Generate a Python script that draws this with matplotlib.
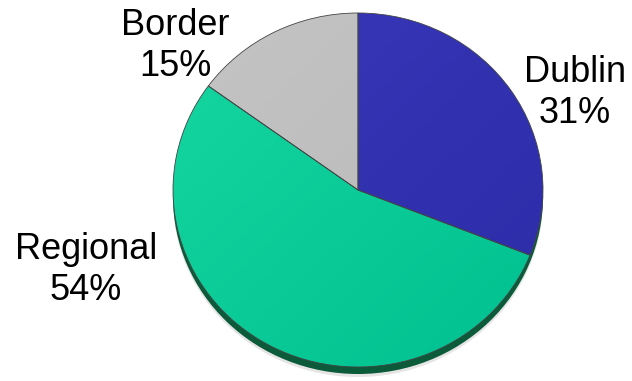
import numpy as np
import matplotlib.pyplot as plt
from matplotlib.colors import to_rgb
from matplotlib.patches import Ellipse

regions = ['Dublin', 'Regional', 'Border']
shares = [31, 54, 15]
colors = ['#3232B2', '#0BCA98', '#BDBDBD']
# lighter / darker tones used for the soft shading across each slice
tops = ['#3838BA', '#16D6A0', '#C4C4C4']
bottoms = ['#2C2CA8', '#00C090', '#B8B8B8']

plt.rcParams['font.family'] = ['Liberation Sans', 'DejaVu Sans']

W, H = 632, 381
cx, cy = 358, 190          # pie centre in pixels (from top-left)
rx, ry = 185, 177          # horizontal / vertical radius in pixels

fig = plt.figure(figsize=(W / 100, H / 100), dpi=100)
ax = fig.add_axes([0, 0, 1, 1])

# 3D-ish rim and soft drop shadow under the pie
ax.add_patch(Ellipse((0, -10 / ry), 2.0, 2.0, color='#999999', alpha=0.25,
                     lw=0, zorder=0))
ax.add_patch(Ellipse((0, -7 / ry), 2.0, 2.0, color='#0B5A3A', lw=0,
                     zorder=1))

wedges, _ = ax.pie(shares, colors=colors, startangle=90, counterclock=False,
                   radius=1.0,
                   wedgeprops=dict(edgecolor='#444444', linewidth=0.6,
                                   zorder=2))

# shading inside each wedge
yy, xx = np.mgrid[0:1:200j, 0:1:200j]
grad = (xx + yy) / 2
for w, c1, c2 in zip(wedges, tops, bottoms):
    rgb1 = np.array(to_rgb(c1))
    rgb2 = np.array(to_rgb(c2))
    img = rgb1 + (rgb2 - rgb1) * grad[..., None]
    im = ax.imshow(img, extent=(-1, 1, -1, 1), origin='upper',
                   interpolation='bilinear', zorder=2.5)
    im.set_clip_path(w)
for w in wedges:
    w.set_facecolor('none')
    w.set_zorder(3)

ax.set_aspect('auto')
ax.set_xlim(-cx / rx, (W - cx) / rx)
ax.set_ylim(-(H - cy) / ry, cy / ry)
ax.axis('off')

label_pos = {'Dublin': (575, 93), 'Regional': (86, 270), 'Border': (175, 46)}
for name, val in zip(regions, shares):
    px, py = label_pos[name]
    fig.text(px / W, 1 - py / H, f'{name}\n{val}%', ha='center', va='center',
             fontsize=26, linespacing=1.25, color='black')

fig.savefig('out.png', dpi=100)
